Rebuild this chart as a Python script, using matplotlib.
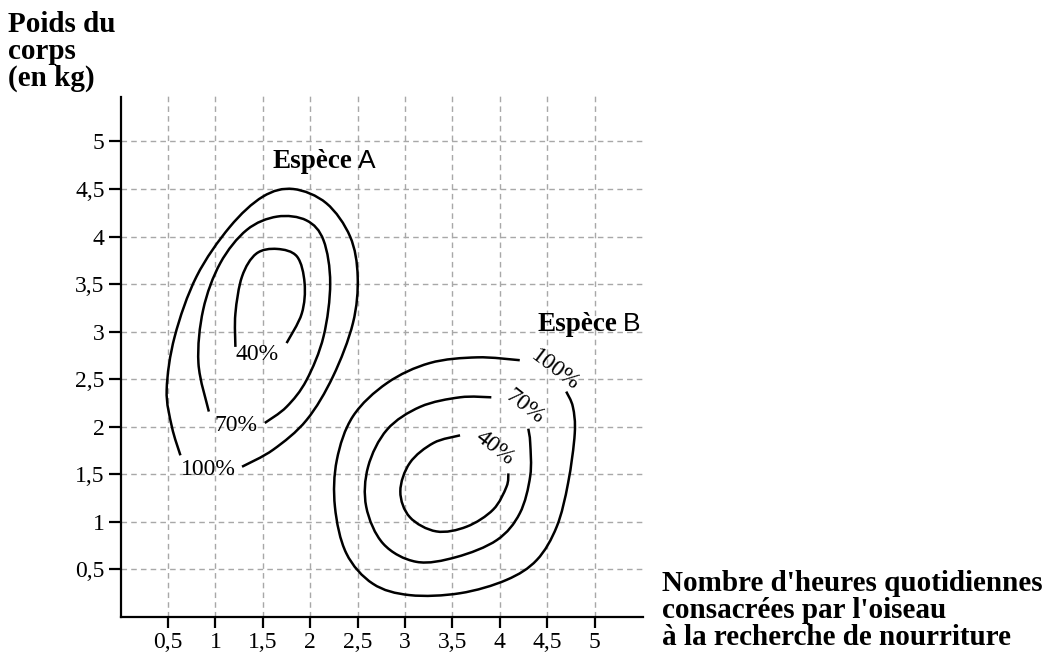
import numpy as np
import matplotlib
matplotlib.use("Agg")
import matplotlib.pyplot as plt
from matplotlib.path import Path
from matplotlib.patches import PathPatch

SERIF = ["Liberation Serif", "DejaVu Serif"]
SANS = ["Liberation Sans", "DejaVu Sans"]

# ---- data ----
x_ticks = [0.5, 1, 1.5, 2, 2.5, 3, 3.5, 4, 4.5, 5]
x_tick_labels = ["0,5", "1", "1,5", "2", "2,5", "3", "3,5", "4", "4,5", "5"]
y_ticks = [0.5, 1, 1.5, 2, 2.5, 3, 3.5, 4, 4.5, 5]
y_tick_labels = ["0,5", "1", "1,5", "2", "2,5", "3", "3,5", "4", "4,5", "5"]

# Espèce A contours
a100_x = [0.63, 0.54, 0.485, 0.57, 0.80, 1.15, 1.50, 1.82, 2.17, 2.42, 2.50, 2.45, 2.24, 1.96, 1.61, 1.28]
a100_y = [1.70, 2.00, 2.39, 2.95, 3.58, 4.10, 4.42, 4.50, 4.35, 4.00, 3.58, 3.09, 2.53, 2.07, 1.76, 1.58]
a70_x = [0.93, 0.82, 0.87, 1.05, 1.33, 1.65, 1.96, 2.14, 2.21, 2.14, 1.96, 1.75, 1.52]
a70_y = [2.16, 2.67, 3.23, 3.72, 4.07, 4.21, 4.17, 3.96, 3.51, 2.95, 2.49, 2.21, 2.04]
a40_x = [1.21, 1.21, 1.28, 1.43, 1.65, 1.86, 1.94, 1.91, 1.75]
a40_y = [2.84, 3.19, 3.58, 3.82, 3.87, 3.79, 3.51, 3.19, 2.88]

# Espèce B contours
b100_x = [4.21, 3.76, 3.26, 2.81, 2.45, 2.28, 2.26, 2.38, 2.66, 3.05, 3.58, 4.07, 4.39, 4.60, 4.72, 4.79, 4.77, 4.70]
b100_y = [2.70, 2.73, 2.67, 2.46, 2.11, 1.65, 1.16, 0.67, 0.35, 0.23, 0.25, 0.39, 0.60, 0.95, 1.41, 1.93, 2.21, 2.37]
b70_x = [3.91, 3.58, 3.16, 2.81, 2.61, 2.59, 2.77, 3.12, 3.54, 3.97, 4.21, 4.32, 4.32, 4.30]
b70_y = [2.31, 2.31, 2.21, 1.97, 1.58, 1.16, 0.77, 0.58, 0.63, 0.81, 1.09, 1.48, 1.83, 1.98]
b40_x = [3.58, 3.30, 3.05, 2.95, 3.05, 3.33, 3.65, 3.93, 4.07, 4.09]
b40_y = [1.91, 1.83, 1.62, 1.32, 1.05, 0.90, 0.95, 1.13, 1.37, 1.51]

contour_labels = ["100%", "70%", "40%", "100%", "70%", "40%"]
label_x = [0.93, 1.22, 1.44, 4.58, 4.26, 3.95]
label_y = [1.55, 2.01, 2.76, 2.60, 2.21, 1.78]
label_rot = [0, 0, 0, -37, -38, -38]

species_names = ["Espèce", "Espèce"]
species_letters = ["A", "B"]
species_x = [1.60, 4.40]
species_y = [4.72, 3.01]

y_title = "Poids du\ncorps\n(en kg)"
x_title = "Nombre d'heures quotidiennes\nconsacrées par l'oiseau\nà la recherche de nourriture"


def smooth_path(xs, ys):
    pts = np.column_stack([xs, ys]).astype(float)
    p = np.vstack([pts[0], pts, pts[-1]])
    verts = [pts[0]]
    codes = [Path.MOVETO]
    for i in range(1, len(p) - 2):
        p0, p1, p2, p3 = p[i - 1], p[i], p[i + 1], p[i + 2]
        c1 = p1 + (p2 - p0) / 6.0
        c2 = p2 - (p3 - p1) / 6.0
        verts += [c1, c2, p2]
        codes += [Path.CURVE4] * 3
    return Path(verts, codes)


fig = plt.figure(figsize=(10.5, 6.61), dpi=100)
ax = fig.add_axes([120.7 / 1050, 44 / 661, (643 - 120.7) / 1050, (617 - 92) / 661])
ax.set_xlim(0, 5.51)
ax.set_ylim(0, 5.52)

for s in ["top", "right"]:
    ax.spines[s].set_visible(False)
ax.spines["left"].set_linewidth(1.6)
ax.spines["bottom"].set_linewidth(1.6)
ax.spines["left"].set_bounds(0, 5.47)

ax.set_xticks(x_ticks)
ax.set_xticklabels(x_tick_labels, fontfamily=SERIF, fontsize=17)
ax.set_yticks(y_ticks)
ax.set_yticklabels(y_tick_labels, fontfamily=SERIF, fontsize=17)
ax.tick_params(axis="x", direction="out", length=8, width=1.6, pad=3)
ax.tick_params(axis="y", direction="out", length=8.5, width=1.6, pad=3)

ax.grid(True, color="#a8a8a8", linestyle=(0, (4, 3)), linewidth=1.0)
ax.set_axisbelow(True)

for xs, ys in [(a100_x, a100_y), (a70_x, a70_y), (a40_x, a40_y),
               (b100_x, b100_y), (b70_x, b70_y), (b40_x, b40_y)]:
    ax.add_patch(PathPatch(smooth_path(xs, ys), facecolor="none",
                           edgecolor="black", linewidth=1.8, zorder=3))

for t, x, y, r in zip(contour_labels, label_x, label_y, label_rot):
    ax.text(x, y, t, ha="center", va="center", rotation=r,
            rotation_mode="anchor", fontfamily=SERIF, fontsize=17, zorder=4)

for name, letter, x, y in zip(species_names, species_letters, species_x, species_y):
    t1 = ax.text(x, y, name, ha="left", va="baseline", fontfamily=SERIF,
                 fontweight="bold", fontsize=19.5, zorder=4)
    ax.annotate(letter, xy=(1, y), xycoords=(t1, "data"), xytext=(4, 0),
                textcoords="offset points", ha="left", va="baseline",
                fontfamily=SANS, fontsize=19, zorder=4)

fig.text(8 / 1050, 1 - 11 / 661, y_title, ha="left", va="top", fontfamily=SERIF,
         fontweight="bold", fontsize=21, linespacing=1.0)
fig.text(662 / 1050, 1 - 570 / 661, x_title, ha="left", va="top", fontfamily=SERIF,
         fontweight="bold", fontsize=21, linespacing=1.0)

fig.savefig("out.png", dpi=100)
